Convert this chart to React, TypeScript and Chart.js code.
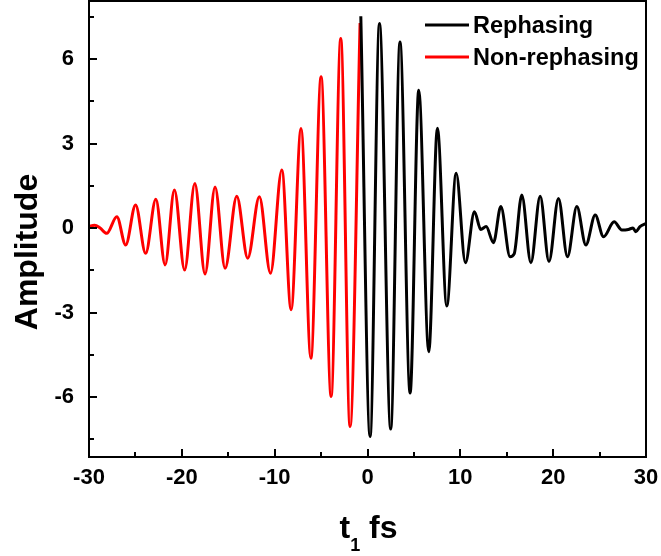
import { useEffect, useRef } from "react";
import { Chart, registerables } from "chart.js";

Chart.register(...registerables);

// Non-rephasing signal (red): time t1 (fs) and amplitude
const nonRephasingT = [
  -30.0, -29.4, -28.8, -28.1, -27.0, -26.05, -24.98, -23.9, -22.8, -21.8,
  -20.8, -19.7, -18.6, -17.5, -16.42, -15.34, -14.08, -12.9, -11.65, -10.45,
  -9.23, -8.23, -7.16, -6.1, -5.0, -3.92, -2.88, -1.88, -0.8,
];
const nonRephasingA = [
  0.05, 0.1, 0.0, -0.19, 0.4, -0.6, 0.82, -0.9, 1.02, -1.31,
  1.35, -1.49, 1.58, -1.63, 1.46, -1.43, 1.13, -1.07, 1.11, -1.61,
  2.06, -2.9, 3.53, -4.62, 5.37, -5.98, 6.73, -7.05, 7.28,
];

// Rephasing signal (black)
const rephasingT = [
  -0.72, 0.28, 1.29, 2.5, 3.5, 4.59, 5.52, 6.6, 7.53, 8.54,
  9.55, 10.55, 11.52, 12.2, 12.78, 13.57, 14.36, 15.36, 15.8, 16.62,
  17.6, 18.6, 19.55, 20.57, 21.54, 22.55, 23.52, 24.53, 25.42, 26.57,
  27.4, 28.1, 28.6, 28.9, 29.35, 30.0,
];
const rephasingA = [
  7.52, -7.4, 7.26, -7.14, 6.6, -5.86, 4.89, -4.39, 3.54, -2.77,
  1.94, -1.23, 0.58, -0.05, 0.05, -0.52, 0.76, -1.02, -0.92, 1.17,
  -1.23, 1.13, -1.19, 1.05, -1.02, 0.76, -0.6, 0.46, -0.31, 0.22,
  -0.07, -0.05, 0.0, -0.13, 0.05, 0.16,
];

const seriesNames = ["Rephasing", "Non-rephasing"];
const seriesColors = ["#000000", "#ff0000"];
const xTickValues = [-30, -20, -10, 0, 10, 20, 30];
const xMinorValues = [-25, -15, -5, 5, 15, 25];
const yTickValues = [-6, -3, 0, 3, 6];
const yMinorValues = [-7.5, -4.5, -1.5, 1.5, 4.5, 7.5];
const xLimits = [-30, 30];
const yLimits = [-8.13, 8.06];
const xTitleMain = "t";
const xTitleSub = "1";
const xTitleUnit = " fs";
const yTitle = "Amplitude";

const FONT = "'Liberation Sans', Arial, Helvetica, sans-serif";

const framePlugin = {
  id: "frameAndText",
  afterDraw(chart: any) {
    const { ctx, chartArea: a, scales } = chart;
    const xs = scales.x;
    const ys = scales.y;
    ctx.save();
    ctx.strokeStyle = "#000";
    ctx.lineWidth = 2;
    ctx.lineCap = "square";
    ctx.beginPath();
    ctx.rect(a.left, a.top, a.right - a.left, a.bottom - a.top);
    ctx.stroke();

    ctx.lineCap = "butt";
    ctx.beginPath();
    for (const v of xTickValues) {
      const px = Math.round(xs.getPixelForValue(v));
      ctx.moveTo(px, a.bottom);
      ctx.lineTo(px, a.bottom - 8);
    }
    for (const v of xMinorValues) {
      const px = Math.round(xs.getPixelForValue(v));
      ctx.moveTo(px, a.bottom);
      ctx.lineTo(px, a.bottom - 5);
    }
    for (const v of yTickValues) {
      const py = Math.round(ys.getPixelForValue(v));
      ctx.moveTo(a.left, py);
      ctx.lineTo(a.left + 8, py);
    }
    for (const v of yMinorValues) {
      const py = Math.round(ys.getPixelForValue(v));
      ctx.moveTo(a.left, py);
      ctx.lineTo(a.left + 5, py);
    }
    ctx.stroke();

    // Y title
    ctx.fillStyle = "#000";
    ctx.save();
    ctx.translate(37, 252);
    ctx.rotate(-Math.PI / 2);
    ctx.font = `bold 32px ${FONT}`;
    ctx.textAlign = "center";
    ctx.textBaseline = "alphabetic";
    ctx.fillText(yTitle, 0, 0);
    ctx.restore();

    // X title with subscript
    const mainFont = `bold 32px ${FONT}`;
    const subFont = `bold 18px ${FONT}`;
    ctx.font = mainFont;
    const wT = ctx.measureText(xTitleMain).width;
    const wU = ctx.measureText(xTitleUnit).width;
    ctx.font = subFont;
    const wS = ctx.measureText(xTitleSub).width;
    const total = wT + wS + wU;
    const cx = (a.left + a.right) / 2 + 1;
    let x0 = cx - total / 2;
    const base = 538;
    ctx.textAlign = "left";
    ctx.textBaseline = "alphabetic";
    ctx.font = mainFont;
    ctx.fillText(xTitleMain, x0, base);
    x0 += wT;
    ctx.font = subFont;
    ctx.fillText(xTitleSub, x0, base + 13);
    x0 += wS;
    ctx.font = mainFont;
    ctx.fillText(xTitleUnit, x0, base);

    // Legend
    const lx0 = a.right - 221;
    const lx1 = a.right - 177;
    const tx = a.right - 173;
    const rows = [25, 57];
    ctx.font = `bold 23.5px ${FONT}`;
    ctx.textAlign = "left";
    ctx.textBaseline = "alphabetic";
    rows.forEach((ry, i) => {
      ctx.strokeStyle = seriesColors[i];
      ctx.lineWidth = 3;
      ctx.beginPath();
      ctx.moveTo(lx0, ry);
      ctx.lineTo(lx1, ry);
      ctx.stroke();
      ctx.fillStyle = "#000";
      ctx.fillText(seriesNames[i], tx, ry + 8);
    });
    ctx.restore();
  },
};

export default function App() {
  const canvasRef = useRef<HTMLCanvasElement | null>(null);

  useEffect(() => {
    const canvas = canvasRef.current;
    if (!canvas) return;
    const rephasing = rephasingT.map((t, i) => ({ x: t, y: rephasingA[i] }));
    const nonRephasing = nonRephasingT.map((t, i) => ({ x: t, y: nonRephasingA[i] }));

    const chart = new Chart(canvas, {
      type: "line",
      data: {
        datasets: [
          {
            label: seriesNames[0],
            data: rephasing,
            borderColor: seriesColors[0],
            borderWidth: 3,
            pointRadius: 0,
            cubicInterpolationMode: "monotone",
            fill: false,
          },
          {
            label: seriesNames[1],
            data: nonRephasing,
            borderColor: seriesColors[1],
            borderWidth: 3,
            pointRadius: 0,
            cubicInterpolationMode: "monotone",
            fill: false,
          },
        ],
      },
      options: {
        animation: false,
        responsive: false,
        devicePixelRatio: 1,
        layout: { padding: { left: 0, top: 1, right: 15, bottom: 0 } },
        plugins: {
          legend: { display: false },
          tooltip: { enabled: false },
        },
        scales: {
          x: {
            type: "linear",
            min: xLimits[0],
            max: xLimits[1],
            afterBuildTicks: (scale: any) => {
              scale.ticks = xTickValues.map((v) => ({ value: v }));
            },
            afterFit: (scale: any) => {
              scale.height = 99;
              scale.paddingLeft = 0;
              scale.paddingRight = 0;
            },
            grid: { display: false, drawTicks: false },
            border: { display: false },
            ticks: {
              color: "#000",
              padding: 8,
              maxRotation: 0,
              font: { family: FONT, size: 22, weight: "bold" },
            },
          },
          y: {
            type: "linear",
            min: yLimits[0],
            max: yLimits[1],
            afterBuildTicks: (scale: any) => {
              scale.ticks = yTickValues.map((v) => ({ value: v }));
            },
            afterFit: (scale: any) => {
              scale.width = 89;
              scale.paddingTop = 0;
              scale.paddingBottom = 0;
            },
            grid: { display: false, drawTicks: false },
            border: { display: false },
            ticks: {
              color: "#000",
              padding: 15,
              font: { family: FONT, size: 22, weight: "bold" },
            },
          },
        },
      },
      plugins: [framePlugin],
    } as any);

    return () => chart.destroy();
  }, []);

  return (
    <div style={{ position: "fixed", left: 0, top: 0, width: 661, height: 556, background: "#fff" }}>
      <canvas ref={canvasRef} width={661} height={556} style={{ display: "block" }} />
    </div>
  );
}
